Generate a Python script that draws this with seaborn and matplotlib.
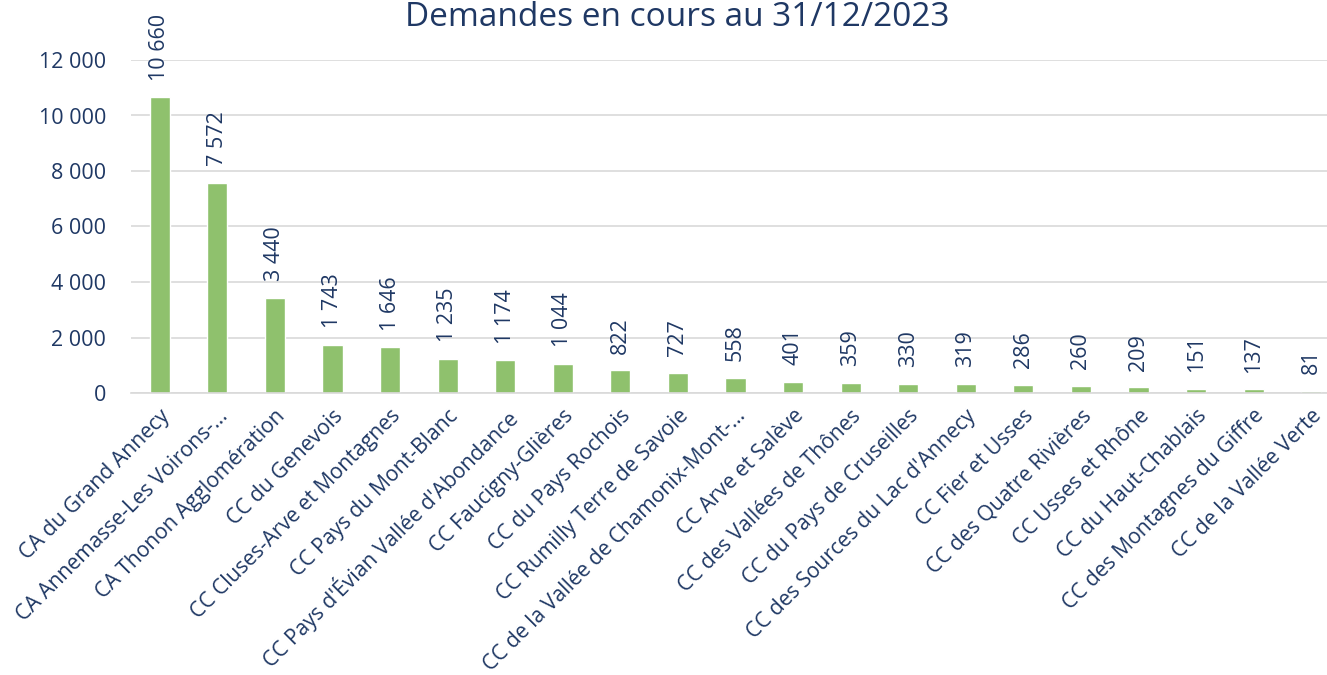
import matplotlib
matplotlib.use("Agg")
import matplotlib.pyplot as plt
import seaborn as sns
import pandas as pd

# Intercommunalités and number of pending requests
territoires = [
    "CA du Grand Annecy",
    "CA Annemasse-Les Voirons-...",
    "CA Thonon Agglomération",
    "CC du Genevois",
    "CC Cluses-Arve et Montagnes",
    "CC Pays du Mont-Blanc",
    "CC Pays d'Évian Vallée d'Abondance",
    "CC Faucigny-Glières",
    "CC du Pays Rochois",
    "CC Rumilly Terre de Savoie",
    "CC de la Vallée de Chamonix-Mont-...",
    "CC Arve et Salève",
    "CC des Vallées de Thônes",
    "CC du Pays de Cruseilles",
    "CC des Sources du Lac d'Annecy",
    "CC Fier et Usses",
    "CC des Quatre Rivières",
    "CC Usses et Rhône",
    "CC du Haut-Chablais",
    "CC des Montagnes du Giffre",
    "CC de la Vallée Verte",
]
demandes = [10660, 7572, 3440, 1743, 1646, 1235, 1174, 1044, 822, 727, 558,
            401, 359, 330, 319, 286, 260, 209, 151, 137, 81]
y_ticks = [0, 2000, 4000, 6000, 8000, 10000, 12000]
titre = "Demandes en cours au 31/12/2023"

df = pd.DataFrame({"territoire": territoires, "demandes": demandes})

sns.set_theme(style="white")
plt.rcParams["font.family"] = ["Open Sans", "DejaVu Sans"]

navy = "#1f3864"
green = "#8fc16d"


def fr(v):
    return f"{v:,.0f}".replace(",", " ")


fig = plt.figure(figsize=(13.27, 6.75), dpi=100)
ax = fig.add_axes([131 / 1327, 282 / 675, (1340 - 131) / 1327, 333 / 675])

sns.barplot(data=df, x="territoire", y="demandes", color=green,
            width=0.35, saturation=1, ax=ax)

ax.set_ylim(0, 12000)
ax.set_xlim(-0.5, len(territoires) - 0.5)
ax.set_yticks(y_ticks)
ax.set_yticklabels([fr(v) for v in y_ticks], color=navy, fontsize=15.5)
ax.yaxis.grid(True, color="#d9d9d9", linewidth=1.2)
ax.set_axisbelow(True)
ax.tick_params(axis="y", length=0, pad=18)
ax.tick_params(axis="x", length=0, pad=9)
ax.set_xlabel("")
ax.set_ylabel("")
for s in ["top", "right", "left"]:
    ax.spines[s].set_visible(False)
ax.spines["bottom"].set_color("#d9d9d9")
ax.spines["bottom"].set_linewidth(1.2)

ax.set_xticks(range(len(territoires)))
ax.set_xticklabels(territoires, rotation=45, ha="right", va="top",
                   rotation_mode="anchor", color=navy, fontsize=15.2)

for i, v in enumerate(demandes):
    ax.annotate(fr(v), xy=(i, v), xytext=(0, 12), textcoords="offset points",
                rotation=90, ha="center", va="bottom", color=navy,
                fontsize=15.5, annotation_clip=False)

fig.text(677 / 1327, 1 - 26 / 675, titre, ha="center", va="baseline",
         color=navy, fontsize=24)

fig.savefig("out.png", dpi=100)
